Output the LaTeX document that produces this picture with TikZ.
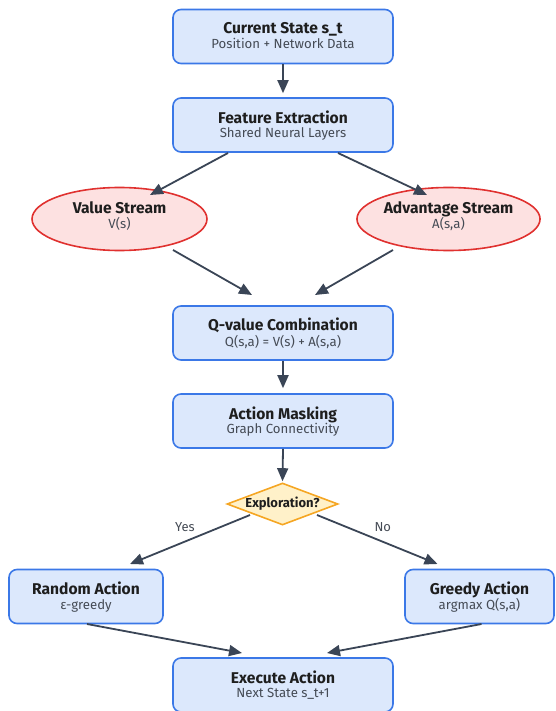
\documentclass[tikz,border=0pt]{standalone}
\usepackage{fontspec}
\setmainfont{Fira Sans}
\usetikzlibrary{shapes.geometric,arrows.meta,calc}
\definecolor{boxfill}{HTML}{DCE8FC}
\definecolor{boxline}{HTML}{3B78E7}
\definecolor{ellfill}{HTML}{FDE1E1}
\definecolor{ellline}{HTML}{E0312F}
\definecolor{diafill}{HTML}{FFF1C9}
\definecolor{dialine}{HTML}{F5A623}
\definecolor{arrcol}{HTML}{3A4556}
\definecolor{titcol}{HTML}{1E1E1E}
\definecolor{subcol}{HTML}{454B55}
\newcommand{\tfnt}{\fontsize{15.6}{16}\selectfont\bfseries\color{titcol}}
\newcommand{\sfnt}{\fontsize{13.2}{16}\selectfont\color{subcol}}
\newcommand{\twol}[3]{\raisebox{#3}[\height][\depth]{\begin{tabular}{@{}c@{}}{\tfnt #1}\\[1pt]{\sfnt #2}\end{tabular}}}
\tikzset{
  box/.style={draw=boxline, fill=boxfill, line width=1.6pt, rounded corners=8pt,
    minimum width=220pt, minimum height=54pt, align=center, inner sep=0pt},
  smallbox/.style={box, minimum width=154pt},
  ell/.style={ellipse, draw=ellline, fill=ellfill, line width=1.6pt,
    minimum width=175pt, minimum height=63pt, align=center, inner sep=0pt},
  dia/.style={diamond, draw=dialine, fill=diafill, line width=1.6pt, aspect=2.64,
    minimum width=111pt, minimum height=42pt, inner sep=0pt, font=\fontsize{13}{14}\selectfont\bfseries\color{titcol}},
  arr/.style={draw=arrcol, line width=1.8pt, -{Triangle[length=13pt,width=11pt]}},
  lbl/.style={font=\fontsize{13}{14}\selectfont, text=subcol, inner sep=0pt}
}
\begin{document}
\begin{tikzpicture}[x=1pt,y=-1pt]
\useasboundingbox (0,0) rectangle (555,711);
\node[box] (cs) at (283,36.5) {\twol{Current State s\_t}{Position + Network Data}{-1pt}};
\node[box] (fe) at (283,125) {\twol{Feature Extraction}{Shared Neural Layers}{-1pt}};
\node[ell] (vs) at (119.5,219) {\twol{Value Stream}{V(s)}{2pt}};
\node[ell] (as) at (448.5,219) {\twol{Advantage Stream}{A(s,a)}{2pt}};
\node[box] (qv) at (283,333) {\twol{Q-value Combination}{Q(s,a) = V(s) + A(s,a)}{-1pt}};
\node[box] (am) at (283,421) {\twol{Action Masking}{Graph Connectivity}{-1pt}};
\node[dia] (ex) at (282.5,504) {Exploration?};
\node[smallbox] (ra) at (86,596.5) {\twol{Random Action}{ε-greedy}{-1pt}};
\node[smallbox, minimum width=149pt] (ga) at (479.5,596.5) {\twol{Greedy Action}{argmax Q(s,a)}{-1pt}};
\node[box] (ea) at (283,685) {\twol{Execute Action}{Next State s\_t+1}{-1pt}};

\draw[arr] (cs.south) -- ($(fe.north)+(0,-4)$);
\draw[arr] ($(fe.center)+(-55,28)$) -- ($(vs.center)+(30.5,-24)$);
\draw[arr] ($(fe.center)+(55,28)$) -- ($(as.center)+(-21.5,-24)$);
\draw[arr] ($(vs.center)+(53.5,31)$) -- ($(qv.center)+(-31,-38)$);
\draw[arr] ($(as.center)+(-55.5,31)$) -- ($(qv.center)+(32,-38)$);
\draw[arr] (qv.south) -- ($(am.north)+(0,-5)$);
\draw[arr] (am.south) -- ($(ex.north)+(0,-1)$);
\draw[arr] ($(ex.center)+(-32.5,11)$) -- node[lbl, pos=0.5, xshift=-5pt, yshift=12.5pt] {Yes} ($(ra.center)+(44,-32.5)$);
\draw[arr] ($(ex.center)+(34.5,11)$) -- node[lbl, pos=0.5, xshift=5.5pt, yshift=12.5pt] {No} ($(ga.center)+(-42,-32.5)$);
\draw[arr] ($(ra.center)+(1,27.5)$) -- ($(ea.center)+(-41,-32)$);
\draw[arr] ($(ga.center)+(2,27.5)$) -- ($(ea.center)+(44,-32)$);
\end{tikzpicture}
\end{document}
